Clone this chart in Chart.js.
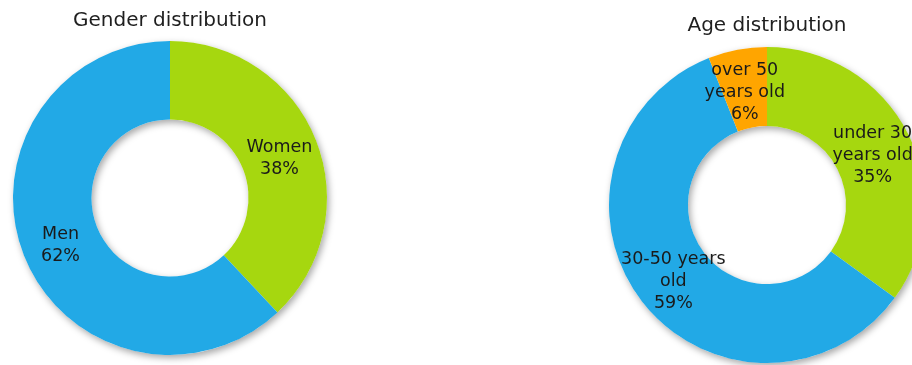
<!DOCTYPE html>
<html lang="en">
  <head>
    <meta charset="UTF-8" />
    <title>Gender and age distribution</title>
    <script src="https://cdn.jsdelivr.net/npm/chart.js"></script>
    <style>
      * {
        margin: 0;
        padding: 0;
        box-sizing: border-box;
      }

      body {
        width: 912px;
        height: 365px;
        overflow: hidden;
        background: #fff;
        position: relative;
      }

      /* each donut sits in its own box */
      .box {
        position: absolute;
        top: 0;
        height: 365px;
      }

      #genderBox {
        left: 0;
        width: 410px;
      }

      #ageBox {
        left: 600px;
        width: 354px;
      }
    </style>
  </head>
  <body>
    <div class="box" id="genderBox"><canvas id="genderChart"></canvas></div>
    <div class="box" id="ageBox"><canvas id="ageChart"></canvas></div>

    <script>
      // data
      const genderLabels = [["Women"], ["Men"]];
      const genderValues = [38, 62];

      const ageLabels = [
        ["under 30", "years old"],
        ["30-50 years", "old"],
        ["over 50", "years old"],
      ];
      const ageValues = [35, 59, 6];

      const green = "#a6d70f";
      const blue = "#22a9e6";
      const orange = "#ffa500";

      // soft shadow under the whole ring, drawn once so segments don't shade each other
      const ringShadow = {
        id: "ringShadow",
        beforeDatasetsDraw(chart) {
          const arc = chart.getDatasetMeta(0).data[0];
          if (!arc) return;
          const ctx = chart.ctx;
          ctx.save();
          ctx.shadowColor = "rgba(0, 0, 0, 0.35)";
          ctx.shadowBlur = 7;
          ctx.shadowOffsetX = 2;
          ctx.shadowOffsetY = 3;
          ctx.fillStyle = "#fff";
          ctx.beginPath();
          ctx.arc(arc.x, arc.y, arc.outerRadius, 0, Math.PI * 2);
          ctx.arc(arc.x, arc.y, arc.innerRadius, 0, Math.PI * 2, true);
          ctx.fill("evenodd");
          ctx.restore();
        },
      };

      // category name + percentage in the middle of each segment
      const segmentLabels = {
        id: "segmentLabels",
        afterDatasetsDraw(chart) {
          const ctx = chart.ctx;
          const ds = chart.data.datasets[0];
          const total = ds.data.reduce((a, b) => a + b, 0);
          const lh = 22;
          ctx.save();
          ctx.font = "17.5px 'DejaVu Sans', sans-serif";
          ctx.fillStyle = "#1a1a1a";
          ctx.textAlign = "center";
          ctx.textBaseline = "middle";
          chart.getDatasetMeta(0).data.forEach((arc, i) => {
            const pos = arc.tooltipPosition();
            const lines = chart.data.labels[i].concat(
              Math.round((ds.data[i] / total) * 100) + "%"
            );
            const top = pos.y + 4 - ((lines.length - 1) * lh) / 2;
            lines.forEach((line, j) => ctx.fillText(line, pos.x, top + j * lh));
          });
          ctx.restore();
        },
      };

      function makeDonut(canvasId, title, labels, values, colors, layout, titlePad) {
        return new Chart(document.getElementById(canvasId), {
          type: "doughnut",
          data: {
            labels: labels,
            datasets: [
              {
                data: values,
                backgroundColor: colors,
                borderWidth: 0,
              },
            ],
          },
          options: {
            responsive: true,
            maintainAspectRatio: false,
            animation: false,
            cutout: "50%",
            layout: { padding: layout },
            plugins: {
              legend: { display: false },
              tooltip: { enabled: false },
              title: {
                display: true,
                text: title,
                color: "#1f1f1f",
                font: { family: "'DejaVu Sans', sans-serif", size: 20, weight: "normal" },
                padding: titlePad,
              },
            },
          },
          plugins: [ringShadow, segmentLabels],
        });
      }

      makeDonut(
        "genderChart",
        "Gender distribution",
        genderLabels,
        genderValues,
        [green, blue],
        { left: 13, right: 83, top: 0, bottom: 10 },
        { top: 9, bottom: 8 }
      );

      makeDonut(
        "ageChart",
        "Age distribution",
        ageLabels,
        ageValues,
        [green, blue, orange],
        { left: 9, right: 29, top: 0, bottom: 2 },
        { top: 14, bottom: 9 }
      );
    </script>
  </body>
</html>
